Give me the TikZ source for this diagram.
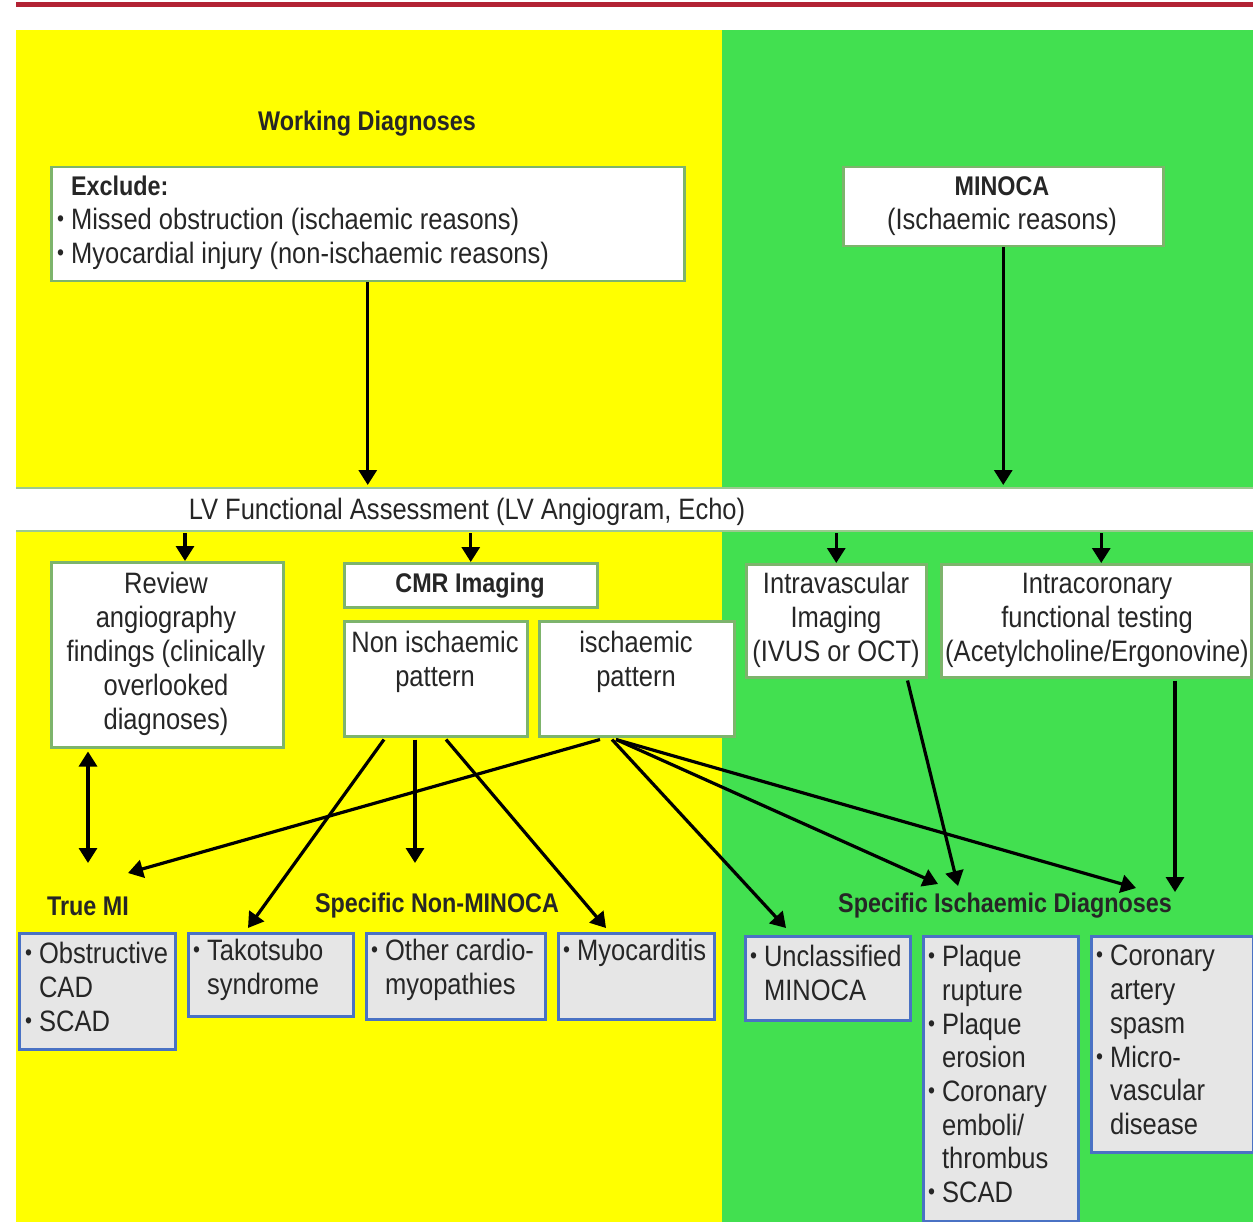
\documentclass[tikz,border=0pt]{standalone}
\usepackage{fontspec}
\setmainfont{Liberation Sans}[FakeStretch=0.865]
\usetikzlibrary{arrows.meta,calc}
\definecolor{bgyellow}{HTML}{FFFF00}
\definecolor{bggreen}{HTML}{42E050}
\definecolor{topred}{HTML}{B22234}
\definecolor{boxgreen}{HTML}{7DB46C}
\definecolor{bandline}{HTML}{9CC98F}
\definecolor{boxblue}{HTML}{4A72C4}
\definecolor{boxgray}{HTML}{E6E6E6}
\definecolor{ink}{HTML}{262626}
% bullet and hanging indent for list lines
\newcommand\bl{\makebox[0.47em][l]{\raisebox{0.1em}{\fontsize{23}{23}\selectfont •}}}
\newcommand\ind{\hspace*{0.47em}}
\newcommand\hb[1]{{\fontsize{27}{34}\selectfont\bfseries #1}}
\begin{document}
\begin{tikzpicture}[x=1pt,y=-1pt,
  every node/.style={text=ink, font=\fontsize{29.5}{34}\selectfont},
  wbox/.style={draw=boxgreen, line width=2.5pt, fill=white, anchor=north west, inner sep=0pt},
  gbox/.style={draw=boxblue, line width=2.5pt, fill=boxgray, anchor=north west, inner sep=0pt},
  txt/.style={inner sep=0pt, align=center},
  ltxt/.style={inner sep=0pt, align=left, anchor=west},
  lst/.style={inner sep=0pt, align=left, anchor=west, font=\fontsize{29.5}{33.7}\selectfont},
  head/.style={inner sep=0pt, font=\fontsize{27}{32}\selectfont\bfseries},
  arr/.style={line width=3.2pt, -{Triangle[length=15pt,width=18pt]}},
  darr/.style={line width=3.2pt, {Triangle[length=15pt,width=18pt]}-{Triangle[length=15pt,width=18pt]}},
]
\useasboundingbox (0,0) rectangle (1253,1222);
% backgrounds
\fill[white] (0,0) rectangle (1253,1222);
\fill[topred] (16,2) rectangle (1253,7);
\fill[bgyellow] (16,30) rectangle (722,1222);
\fill[bggreen] (722,30) rectangle (1253,1222);

% LV assessment band
\node[fill=white, anchor=north west, inner sep=0pt, minimum width=1237pt, minimum height=43pt] (lvband) at (16,488) {};
\draw[bandline, line width=2pt] (lvband.north west) -- (lvband.north east);
\draw[bandline, line width=2pt] (lvband.south west) -- (lvband.south east);
\node[inner sep=0pt] (lvt) at (467,512) {LV Functional Assessment (LV Angiogram, Echo)};

% headings
\node[head] (wd) at (367,124) {Working Diagnoses};
\node[head] (truemi) at (88,906) {True MI};
\node[head] (nonmin) at (437,906) {Specific Non-MINOCA};
\node[head] (isd) at (1005,906) {Specific Ischaemic Diagnoses};

% white boxes
\node[wbox, minimum width=633pt, minimum height=114pt] (exclude) at (50,166) {};
\node[wbox, minimum width=320pt, minimum height=79pt] (minoca) at (842,166) {};
\node[wbox, minimum width=232pt, minimum height=185pt] (review) at (50,561) {};
\node[wbox, minimum width=253pt, minimum height=44pt] (cmr) at (343,562) {};
\node[wbox, minimum width=183pt, minimum height=115pt] (nonisch) at (343,620) {};
\node[wbox, minimum width=195pt, minimum height=115pt] (isch) at (538,620) {};
\node[wbox, minimum width=180pt, minimum height=113pt] (ivi) at (745,563) {};
\node[wbox, minimum width=310pt, minimum height=113pt] (icf) at (940,563) {};

% grey result boxes
\node[gbox, minimum width=156pt, minimum height=116pt] (obst) at (18,932) {};
\node[gbox, minimum width=165pt, minimum height=83pt] (tako) at (187,932) {};
\node[gbox, minimum width=179pt, minimum height=86pt] (othr) at (365,932) {};
\node[gbox, minimum width=156pt, minimum height=86pt] (myoc) at (557,932) {};
\node[gbox, minimum width=165pt, minimum height=84pt] (uncl) at (744,935) {};
\node[gbox, minimum width=155pt, minimum height=285pt] (plaq) at (922,935) {};
\node[gbox, minimum width=162pt, minimum height=216pt] (spas) at (1090,935) {};

% box texts
\node[ltxt] (exct) at (57,223) {\ind\hb{Exclude:}\\\bl Missed obstruction (ischaemic reasons)\\\bl Myocardial injury (non-ischaemic reasons)};
\node[txt] (minocat) at (1002,206) {\hb{MINOCA}\\(Ischaemic reasons)};
\node[txt] (reviewt) at (166,654) {Review\\angiography\\findings (clinically\\overlooked\\diagnoses)};
\node[head] (cmrt) at (470,586) {CMR Imaging};
\node[txt] (nonischt) at (435,662) {Non ischaemic\\pattern};
\node[txt] (ischt) at (636,662) {ischaemic\\pattern};
\node[txt] (ivit) at (836,620) {Intravascular\\Imaging\\(IVUS or OCT)};
\node[txt] (icft) at (1097,620) {Intracoronary\\functional testing\\(Acetylcholine/Ergonovine)};

\node[lst] (obstt) at (25,987) {\bl Obstructive\\\ind CAD\\\bl SCAD};
\node[lst] (takot) at (193,970) {\bl Takotsubo\\\ind syndrome};
\node[lst] (othrt) at (371,970) {\bl Other cardio-\\\ind myopathies};
\node[lst] (myoct) at (563,953) {\bl Myocarditis};
\node[lst] (unclt) at (750,973) {\bl Unclassified\\\ind MINOCA};
\node[lst] (plaqt) at (928,1074) {\bl Plaque\\\ind rupture\\\bl Plaque\\\ind erosion\\\bl Coronary\\\ind emboli/\\\ind thrombus\\\bl SCAD};
\node[lst] (spast) at (1096,1040) {\bl Coronary\\\ind artery\\\ind spasm\\\bl Micro-\\\ind vascular\\\ind disease};

% connectors into the LV band
\draw[arr, shorten >=3pt] (exclude.south) -- (exclude.south |- lvband.north);
\draw[arr, shorten >=3pt] (minoca.south) -- (minoca.south |- lvband.north);

% connectors out of the LV band
\coordinate (revin) at ($(review.north west)+(135,0)$);
\coordinate (icfin) at ($(icf.north)+(5,0)$);
\draw[arr, shorten <=2pt] (revin |- lvband.south) -- (revin);
\draw[arr, shorten <=2pt] (cmr.north |- lvband.south) -- (cmr.north);
\draw[arr, shorten <=2pt] (ivi.north |- lvband.south) -- (ivi.north);
\draw[arr, shorten <=2pt] (icfin |- lvband.south) -- (icfin);

% review <-> true MI
\coordinate (rvout) at ($(review.south west)+(38,0)$);
\coordinate (mitop) at ($(obst.north west)+(70,-69)$);
\draw[darr, shorten <=3pt] (rvout) -- (mitop);

% non-ischaemic pattern
\coordinate (n1) at ($(nonisch.south west)+(41,2)$);
\coordinate (n2) at ($(nonisch.south west)+(72,2)$);
\coordinate (n3) at ($(nonisch.south west)+(103,2)$);
\draw[arr] (n1) -- ($(tako.north west)+(61,-4)$);
\draw[arr] (n2) -- (n2 |- mitop);
\draw[arr] (n3) -- ($(myoc.north west)+(49,-4)$);

% ischaemic pattern
\coordinate (i1) at ($(isch.south west)+(62,2)$);
\coordinate (i2) at ($(isch.south west)+(74,2)$);
\coordinate (i3) at ($(isch.south west)+(78,2)$);
\draw[arr] (i1) -- ($(obst.north west)+(110,-59)$);
\draw[arr] (i2) -- ($(uncl.north west)+(42,-7)$);
\draw[arr] (i3) -- ($(plaq.north west)+(16,-51)$);
\draw[arr] (i3) -- ($(spas.north west)+(46,-47)$);

% intravascular and intracoronary testing
\coordinate (v1) at ($(ivi.south east)+(-20,2)$);
\coordinate (c1) at ($(icf.south west)+(235,2)$);
\draw[arr] (v1) -- ($(plaq.north west)+(36,-49)$);
\draw[arr] (c1) -- ($(spas.north west)+(85,-43)$);
\end{tikzpicture}
\end{document}
